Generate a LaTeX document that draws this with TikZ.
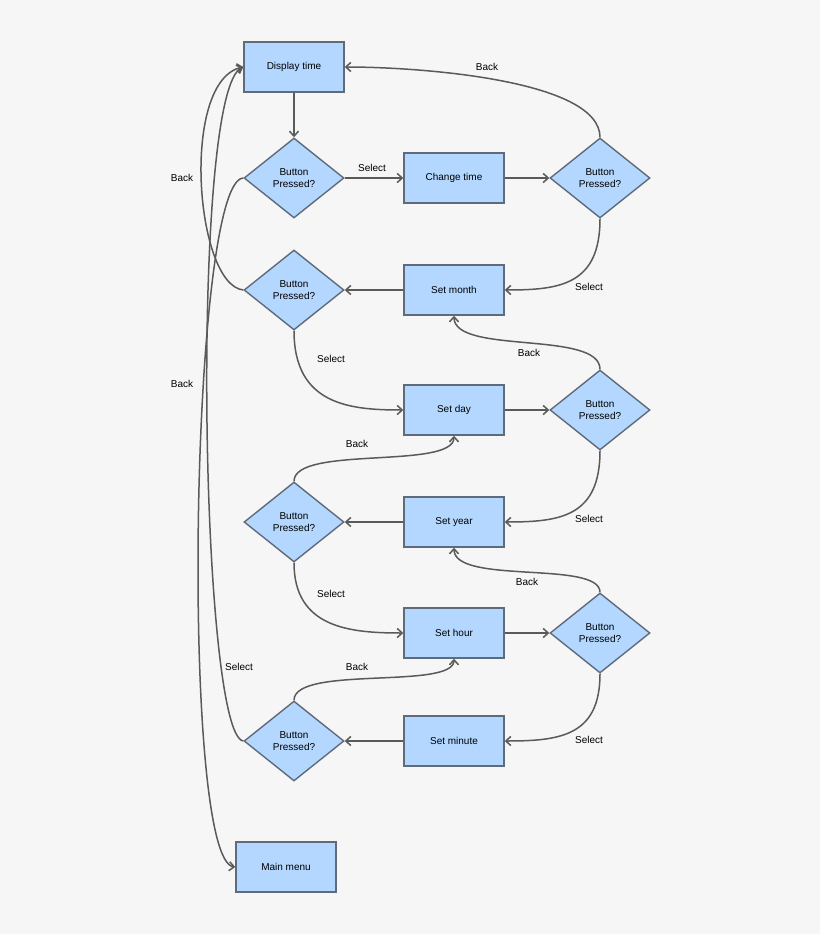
\documentclass[tikz,border=0pt]{standalone}
\usepackage{fontspec}
\setmainfont{Liberation Sans}
\usetikzlibrary{shapes.geometric,arrows.meta}
\definecolor{bg}{HTML}{F6F6F6}
\definecolor{bfill}{HTML}{B3D7FF}
\definecolor{bdraw}{HTML}{5F6B7A}
\definecolor{ln}{HTML}{5A5A5A}
\begin{document}
\begin{tikzpicture}[x=1pt,y=-1pt,
  font=\fontsize{10}{11.5}\selectfont,
  box/.style={draw=bdraw,fill=bfill,line width=1.4pt,minimum width=100pt,minimum height=50pt,inner sep=0pt},
  dia/.style={draw=bdraw,fill=bfill,line width=1.4pt,diamond,minimum width=100pt,minimum height=80pt,aspect=1.25,inner sep=0pt,align=center},
  ar/.style={draw=ln,line width=1.5pt,-{Straight Barb[length=5pt,width=9pt]}},
  lb/.style={font=\fontsize{10}{11.5}\selectfont}]
\fill[bg] (0,0) rectangle (820,934);
\useasboundingbox (0,0) rectangle (820,934);
\node[box] (disp) at (294,67) {Display time};
\node[dia] (d1) at (294,178) {Button\\Pressed?};
\node[box] (chg) at (454,178) {Change time};
\node[dia] (d2) at (600,178) {Button\\Pressed?};
\node[box] (mon) at (454,290) {Set month};
\node[dia] (d3) at (294,290) {Button\\Pressed?};
\node[box] (day) at (454,410) {Set day};
\node[dia] (d4) at (600,410) {Button\\Pressed?};
\node[box] (year) at (454,522) {Set year};
\node[dia] (d5) at (294,522) {Button\\Pressed?};
\node[box] (hour) at (454,633) {Set hour};
\node[dia] (d6) at (600,633) {Button\\Pressed?};
\node[box] (min) at (454,741) {Set minute};
\node[dia] (d7) at (294,741) {Button\\Pressed?};
\node[box] (menu) at (286,867) {Main menu};

\draw[ar] (disp) -- (d1);
\draw[ar] (d1) -- (chg);
\draw[ar] (chg) -- (d2);
\draw[ar] (mon) -- (d3);
\draw[ar] (day) -- (d4);
\draw[ar] (year) -- (d5);
\draw[ar] (hour) -- (d6);
\draw[ar] (min) -- (d7);

\draw[ar] (d2.north) .. controls (600,80) and (420,67) .. (disp.east);
\draw[ar] (d2.south) .. controls (600,285) and (560,290) .. (mon.east);
\draw[ar] (d4.south) .. controls (600,517) and (560,522) .. (year.east);
\draw[ar] (d6.south) .. controls (600,736) and (560,741) .. (min.east);
\draw[ar] (d3.south) .. controls (294,405) and (350,410) .. (day.west);
\draw[ar] (d5.south) .. controls (294,628) and (350,633) .. (hour.west);
\draw[ar] (d4.north) .. controls (600,330) and (454,355) .. (mon.south);
\draw[ar] (d6.north) .. controls (600,560) and (454,585) .. (year.south);
\draw[ar] (d5.north) .. controls (294,445) and (454,470) .. (day.south);
\draw[ar] (d7.north) .. controls (294,665) and (454,690) .. (hour.south);
\draw[ar] (d3.west) .. controls (195,285) and (180,80) .. (disp.west);
\draw[ar] (d7.west) .. controls (200,735) and (190,90) .. (disp.west);
\draw[ar] (d1.west) .. controls (190,180) and (180,860) .. (menu.west);

\node[lb] (l1) at (372,168) {Select};
\node[lb] (l2) at (487,67) {Back};
\node[lb] (l3) at (589,287) {Select};
\node[lb] (l4) at (182,178) {Back};
\node[lb] (l5) at (331,359) {Select};
\node[lb] (l6) at (529,353) {Back};
\node[lb] (l7) at (357,444) {Back};
\node[lb] (l8) at (589,519) {Select};
\node[lb] (l9) at (182,384) {Back};
\node[lb] (l10) at (331,594) {Select};
\node[lb] (l11) at (527,582) {Back};
\node[lb] (l12) at (357,667) {Back};
\node[lb] (l13) at (239,667) {Select};
\node[lb] (l14) at (589,740) {Select};
\end{tikzpicture}
\end{document}
